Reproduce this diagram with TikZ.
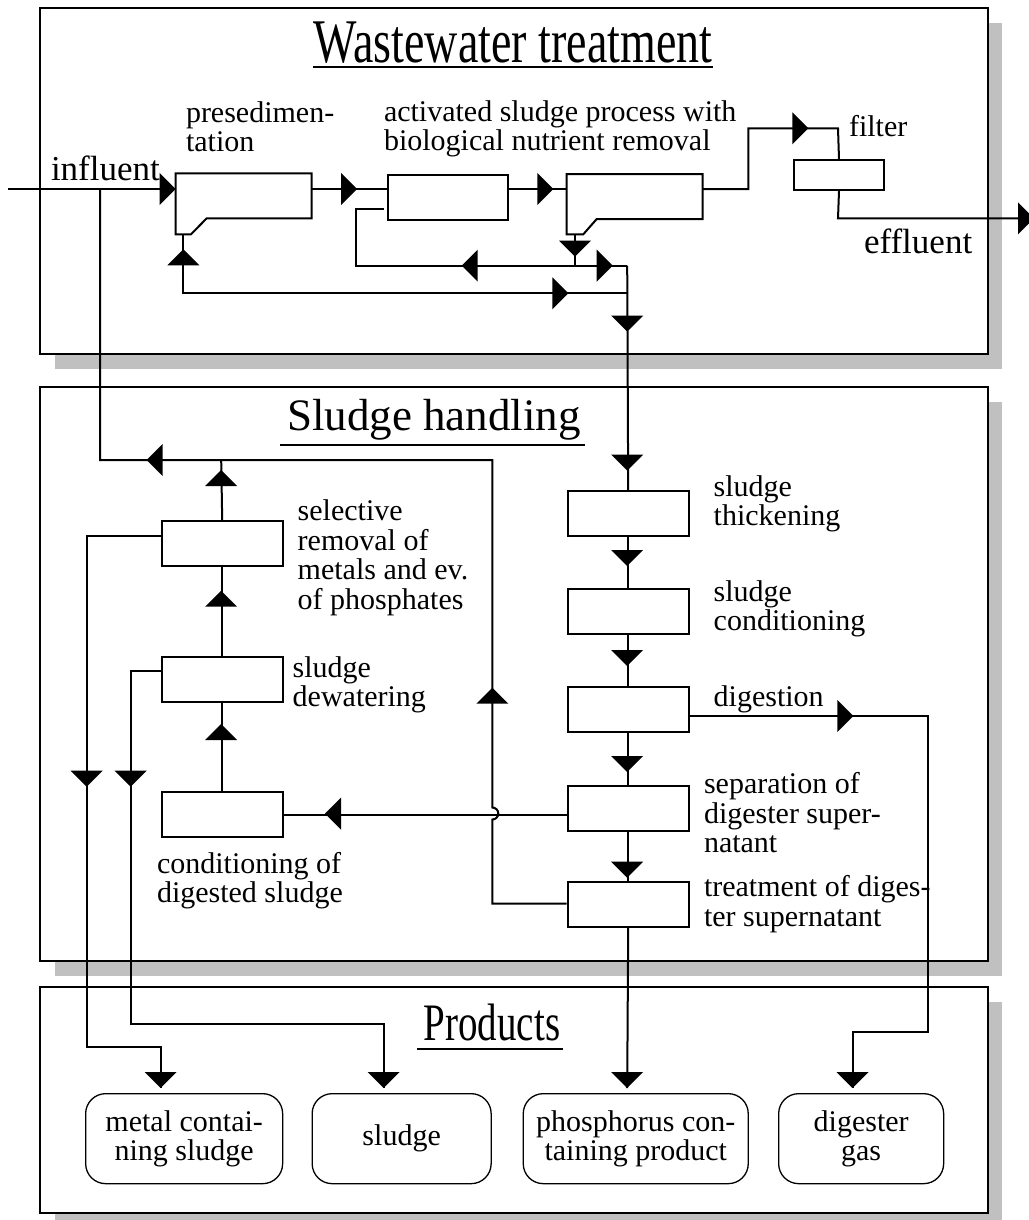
\documentclass[tikz,border=0pt]{standalone}
\usepackage{fontspec}
\setmainfont{Liberation Serif}
\definecolor{shadowgray}{RGB}{192,192,192}
\newcommand{\myBody}{\fontsize{30}{29.5}\selectfont}
\newcommand{\myBig}{\fontsize{35}{35}\selectfont}
\newcommand{\myTitle}{\fontsize{45}{45}\selectfont}
\begin{document}
\begin{tikzpicture}[x=1pt,y=-1pt,line width=2pt,
  framebox/.style={draw,fill=white,line width=2.6pt},
  unitbox/.style={draw,line width=2pt,inner sep=0pt,minimum width=121pt,minimum height=45pt,anchor=north west},
  prodbox/.style={draw,line width=1.3pt,rounded corners=20pt,inner sep=0pt,minimum height=90pt,align=center,anchor=north west,font=\myBody},
  lbl/.style={inner sep=0pt,anchor=north west,align=left,font=\myBody},
  bigl/.style={inner sep=0pt,anchor=base west,font=\myBig},
  ttl/.style={inner sep=0pt,anchor=base,font=\myTitle},
  uline/.style={line width=2.5pt},
  arrowtri/.pic={\fill (0,0) -- (-16,-16) -- (-16,16) -- cycle;},
]
\path[use as bounding box] (0,0) rectangle (1028,1220);

% frames with shadows
\fill[shadowgray] (55,23) rectangle (1002,369);
\draw[framebox] (40,8) rectangle (988,354);
\fill[shadowgray] (55,402) rectangle (1002,976);
\draw[framebox] (40,387) rectangle (988,961);
\fill[shadowgray] (55,1002) rectangle (1002,1228);
\draw[framebox] (40,987) rectangle (988,1213);

% titles
\node[ttl,font=\fontsize{46}{46}\selectfont] (t1) at (513,63) {\scalebox{1}[1.35]{Wastewater treatment}};
\draw[uline] ([yshift=-4pt]t1.base west) -- ([yshift=-4pt]t1.base east);
\node[ttl] (t2) at (434,430) {Sludge handling};
\draw[uline] ([yshift=-15pt,xshift=-6pt]t2.base west) -- ([yshift=-15pt,xshift=3pt]t2.base east);
\node[ttl,font=\fontsize{39}{39}\selectfont] (t3) at (492,1040) {\scalebox{1}[1.35]{Products}};
\draw[uline] ([yshift=-9pt,xshift=-6pt]t3.base west) -- ([yshift=-9pt,xshift=2pt]t3.base east);

% ---- wastewater treatment units
\draw (175.7,173.3) -- (311.7,173.3) -- (311.7,218.3) -- (206.7,218.3) -- (191,234.3) -- (175.7,234.3) -- cycle;
\coordinate (presIn) at (175.7,189);
\coordinate (presOut) at (311.7,189);
\coordinate (presBot) at (183.3,234.3);
\node[unitbox,minimum width=120pt] (act) at (386.7,174) {};
\coordinate (actIn) at (386.7,189);
\coordinate (actOut) at (506.7,189);
\coordinate (actRet) at (384,209);
\draw (566.7,174) -- (702.7,174) -- (702.7,219) -- (596.7,219) -- (583.3,234.3) -- (566.7,234.3) -- cycle;
\coordinate (clarIn) at (566.7,189);
\coordinate (clarOut) at (702.7,189);
\coordinate (clarBot) at (575,234.3);
\node[unitbox,minimum width=90.6pt,minimum height=30pt] (filt) at (792.7,159) {};
\coordinate (inf) at (8,189);
\coordinate (eff) at (1034,218.3);

% ---- sludge handling units
\node[unitbox] (sel) at (160.7,520) {};
\node[unitbox] (dew) at (160.7,655.5) {};
\node[unitbox] (cond) at (160.7,791) {};
\node[unitbox] (thick) at (566.7,490) {};
\node[unitbox] (scond) at (566.7,588) {};
\node[unitbox] (dig) at (566.7,686) {};
\node[unitbox] (sep) at (566.7,785) {};
\node[unitbox] (treat) at (566.7,881) {};
\coordinate (selW) at (160.7,535.7);
\coordinate (dewW) at (160.7,670.7);
\coordinate (digE) at (687.7,716);
\coordinate (treatW) at (566.7,903.5);

% ---- products
\node[prodbox,minimum width=197pt] (pmetal) at (85,1093) {metal contai-\\ning sludge};
\node[prodbox,minimum width=179pt] (psludge) at (311.5,1093) {sludge};
\node[prodbox,minimum width=225pt] (pphos) at (522.6,1093) {phosphorus con-\\taining product};
\node[prodbox,minimum width=165pt] (pgas) at (778,1093) {digester\\gas};
\coordinate (inMetal) at (160.7,1088);
\coordinate (inSludge) at (383.6,1088);
\coordinate (inPhos) at (627.2,1088);
\coordinate (inGas) at (852.5,1088);

% ---- connectors, wastewater
\draw (inf) -- (presIn);
\pic at (presIn) {arrowtri};
\draw (presOut) -- (actIn);
\pic at (357,189) {arrowtri};
\draw (actOut) -- (clarIn);
\pic at (553.3,189) {arrowtri};
\draw (clarOut) -- (748.3,189) -- (748.3,128.3) -- (838,128.3) -- (filt.north);
\pic at (808.3,128.3) {arrowtri};
\draw (filt.south) -- (838,218.3) -- (eff);
\pic at (eff) {arrowtri};
\draw (clarBot) -- (575,265.7);
\pic[rotate=-90] at (575,256.7) {arrowtri};
\draw (627.2,265.7) -- (356,265.7) -- (356,209) -- (actRet);
\pic[rotate=180] at (461.7,265.7) {arrowtri};
\pic at (612.7,265.7) {arrowtri};
\draw (presBot) -- (183.3,293.3) -- (627.2,293.3);
\pic[rotate=90] at (183.3,249.3) {arrowtri};
\pic at (568.3,293.3) {arrowtri};
\draw (627.2,265.7) -- (thick.north);
\pic[rotate=-90] at (627.2,331.7) {arrowtri};
\pic[rotate=-90] at (627.2,470.7) {arrowtri};

% ---- connectors, sludge handling
\draw (thick.south) -- (scond.north);
\pic[rotate=-90] at (627.2,566) {arrowtri};
\draw (scond.south) -- (dig.north);
\pic[rotate=-90] at (627.2,666) {arrowtri};
\draw (dig.south) -- (sep.north);
\pic[rotate=-90] at (627.2,772) {arrowtri};
\draw (sep.south) -- (treat.north);
\pic[rotate=-90] at (627.2,877.7) {arrowtri};
\draw (cond.north) -- (dew.south);
\pic[rotate=90] at (221.2,724) {arrowtri};
\draw (dew.north) -- (sel.south);
\pic[rotate=90] at (221.2,590.7) {arrowtri};
\draw (sel.north) -- (221.2,460);
\pic[rotate=90] at (221.2,470) {arrowtri};
\draw (sep.west |- cond.east) -- (cond.east);
\pic[rotate=180] at (325,813.5) {arrowtri};
\draw (treatW) -- (492.3,903.5) -- (492.3,819.5) arc[start angle=90,end angle=-90,radius=6] -- (492.3,460) -- (100,460) -- (100,189);
\pic[rotate=90] at (492.3,687.7) {arrowtri};
\pic[rotate=180] at (146.7,460) {arrowtri};

% ---- connectors to products
\draw (digE) -- (928.3,716) -- (928.3,1032) -- (852.5,1032) -- (inGas);
\pic at (853.3,716) {arrowtri};
\pic[rotate=-90] at (inGas) {arrowtri};
\draw (selW) -- (86.7,535.7) -- (86.7,1047) -- (160.7,1047) -- (inMetal);
\pic[rotate=-90] at (86.7,786.7) {arrowtri};
\pic[rotate=-90] at (inMetal) {arrowtri};
\draw (dewW) -- (130.7,670.7) -- (130.7,1024) -- (383.6,1024) -- (inSludge);
\pic[rotate=-90] at (130.7,786.7) {arrowtri};
\pic[rotate=-90] at (inSludge) {arrowtri};
\draw (treat.south) -- (inPhos);
\pic[rotate=-90] at (inPhos) {arrowtri};

% ---- labels
\node[lbl] (lpres) at (185,100.5) {presedimen-\\tation};
\node[lbl] (lact) at (383,99.5) {activated sludge process with\\biological nutrient removal};
\node[lbl] (lfilt) at (848,114.5) {filter};
\node[bigl] (linf) at (50,180) {influent};
\node[bigl] (leff) at (863,253.3) {effluent};
\node[lbl] (lsel) at (296.7,498.8) {selective\\removal of\\metals and ev.\\of phosphates};
\node[lbl] (ldew) at (291.7,655.5) {sludge\\dewatering};
\node[lbl] (lcond) at (156,851.2) {conditioning of\\digested sludge};
\node[lbl] (lthick) at (712.7,474.5) {sludge\\thickening};
\node[lbl] (lscond) at (712.7,579.5) {sludge\\conditioning};
\node[lbl] (ldig) at (712.7,684.5) {digestion};
\node[lbl] (lsep) at (703,771.5) {separation of\\digester super-\\natant};
\node[lbl] (ltreat) at (703,874.5) {treatment of diges-\\ter supernatant};
\end{tikzpicture}
\end{document}
